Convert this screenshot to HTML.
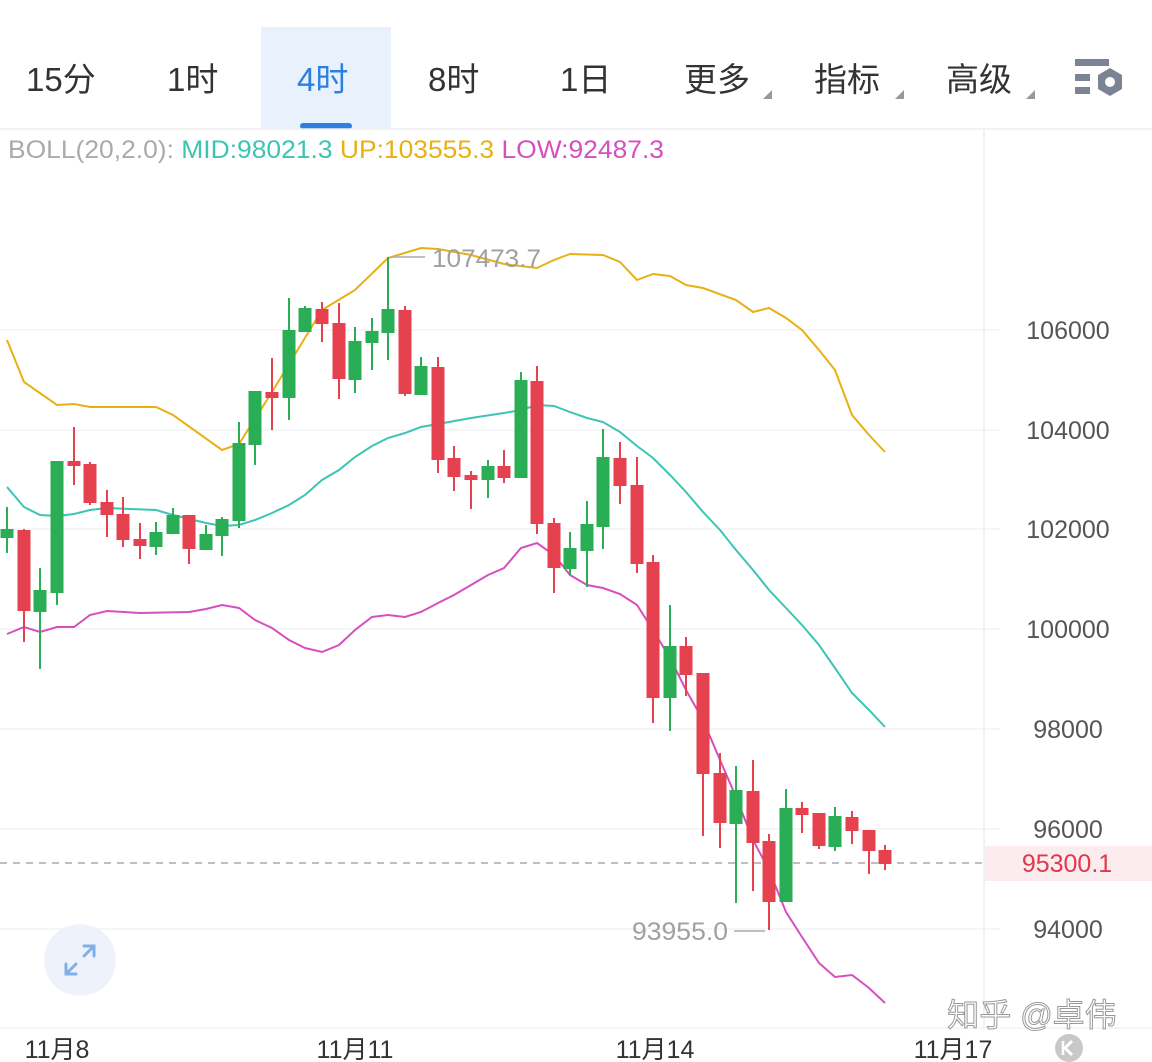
<!DOCTYPE html>
<html><head><meta charset="utf-8"><style>
body{margin:0;width:1152px;height:1062px;background:#fff;overflow:hidden;font-family:"Liberation Sans","Noto Sans CJK SC",sans-serif;}
</style></head><body>
<svg width="1152" height="1062" xmlns="http://www.w3.org/2000/svg" style="position:absolute;left:0;top:0">
<rect x="261" y="27" width="130" height="101" fill="#e8f1fc"/>
<rect x="300" y="123" width="52" height="6" rx="3" fill="#2f7fe0"/>
<line x1="0" y1="129" x2="1152" y2="129" stroke="#eee" stroke-width="1.5"/>
<g font-family="Liberation Sans,Noto Sans CJK SC,sans-serif" font-size="33" fill="#333">
<text x="26" y="91">15分</text>
<text x="167" y="91">1时</text>
<text x="297" y="91" fill="#2f7fe0">4时</text>
<text x="428" y="91">8时</text>
<text x="560" y="91">1日</text>
<text x="684" y="91">更多</text>
<text x="814" y="91">指标</text>
<text x="946" y="91">高级</text>
</g>
<g fill="#999"><polygon points="772,90 772,99 763,99"/><polygon points="904,90 904,99 895,99"/><polygon points="1035,90 1035,99 1026,99"/></g>
<g fill="#7a8494">
<rect x="1075" y="59" width="34" height="7"/><rect x="1075" y="74" width="15" height="7"/><rect x="1075" y="87" width="15" height="7"/>
<polygon points="1110,68 1122,75 1122,89 1110,96 1098,89 1098,75"/>
<circle cx="1110" cy="82" r="5" fill="#fff"/>
</g>
<text x="8" y="158" font-size="25" textLength="656" lengthAdjust="spacingAndGlyphs" font-family="Liberation Sans,Noto Sans CJK SC,sans-serif"><tspan fill="#aaa">BOLL(20,2.0): </tspan><tspan fill="#3cc4b4">MID:98021.3 </tspan><tspan fill="#e8b013">UP:103555.3 </tspan><tspan fill="#d64fbe">LOW:92487.3</tspan></text>
<line x1="984" y1="130" x2="984" y2="1028" stroke="#eee" stroke-width="1.5"/>
<g stroke="#f0f0f0" stroke-width="1.2">
<line x1="0" y1="330" x2="1000" y2="330"/><line x1="0" y1="430" x2="1000" y2="430"/><line x1="0" y1="529" x2="1000" y2="529"/><line x1="0" y1="629" x2="1000" y2="629"/><line x1="0" y1="729" x2="1000" y2="729"/><line x1="0" y1="829" x2="1000" y2="829"/><line x1="0" y1="929" x2="1000" y2="929"/><line x1="0" y1="1028" x2="1152" y2="1028"/>
</g>
<g font-size="25" fill="#555" text-anchor="middle">
<text x="1068" y="339">106000</text><text x="1068" y="439">104000</text><text x="1068" y="538">102000</text><text x="1068" y="638">100000</text><text x="1068" y="738">98000</text><text x="1068" y="838">96000</text><text x="1068" y="938">94000</text>
</g>
<line x1="0" y1="863" x2="985" y2="863" stroke="#aaa" stroke-width="1.5" stroke-dasharray="7,6"/>
<rect x="985" y="846" width="167" height="35" fill="#fdecee"/>
<text x="1067" y="872" font-size="25" fill="#e0384c" text-anchor="middle">95300.1</text>
<g font-size="25" fill="#333" text-anchor="middle" font-family="Liberation Sans,Noto Sans CJK SC,sans-serif">
<text x="57" y="1058">11月8</text><text x="355" y="1058">11月11</text><text x="655" y="1058">11月14</text><text x="953" y="1058">11月17</text>
</g>
<polyline fill="none" stroke="#e8b013" stroke-width="2" points="7,340 24,382 57,405 74,404 90,407 156,407 173,415 222,450 239,444 272,392 322,310 355,290 388,258 421,248 438,249 471,255 504,264 537,268 554,260 570,254 603,255 620,262 637,280 653,274 670,276 686,285 703,288 736,300 753,312 769,308 786,318 802,330 819,350 835,370 852,415 869,435 885,452"/>
<polyline fill="none" stroke="#3cc4b4" stroke-width="2" points="7,487 24,507 40,515 57,516 74,514 90,510 107,508 156,510 173,515 206,523 222,526 239,525 255,520 272,513 289,505 305,495 322,480 339,470 355,457 372,446 388,438 405,433 421,427 438,424 471,418 504,413 521,410 537,405 554,406 570,412 587,418 603,422 620,432 637,446 653,458 670,475 686,492 703,512 720,530 736,550 753,570 769,590 786,608 802,625 819,645 835,668 852,693 869,710 885,727"/>
<polyline fill="none" stroke="#d64fbe" stroke-width="2" points="7,634 24,627 40,632 57,627 74,627 90,615 107,611 140,613 189,612 206,609 222,605 239,608 255,620 272,628 289,640 305,648 322,652 339,645 355,630 372,617 388,615 405,617 421,612 438,603 454,595 471,585 488,575 504,568 521,548 537,543 554,555 570,575 587,585 603,588 620,594 637,605 653,630 670,658 686,690 703,720 720,760 736,797 753,840 769,870 786,912 802,937 819,963 835,977 852,975 869,988 885,1003"/>
<g stroke-width="2">
<g stroke="#2aae55" fill="#2aae55">
<line x1="7" y1="507" x2="7" y2="553"/><rect x="1.5" y="530" width="11" height="7"/>
<line x1="40" y1="568" x2="40" y2="669"/><rect x="34.5" y="591" width="11" height="20"/>
<line x1="57" y1="462" x2="57" y2="605"/><rect x="51.5" y="462" width="11" height="130"/>
<line x1="156" y1="522" x2="156" y2="555"/><rect x="150.5" y="533" width="11" height="13"/>
<line x1="173" y1="508" x2="173" y2="533"/><rect x="167.5" y="516" width="11" height="17"/>
<line x1="206" y1="525" x2="206" y2="549"/><rect x="200.5" y="535" width="11" height="14"/>
<line x1="222" y1="517" x2="222" y2="556"/><rect x="216.5" y="520" width="11" height="15"/>
<line x1="239" y1="422" x2="239" y2="528"/><rect x="233.5" y="444" width="11" height="76"/>
<line x1="255" y1="392" x2="255" y2="465"/><rect x="249.5" y="392" width="11" height="52"/>
<line x1="289" y1="298" x2="289" y2="420"/><rect x="283.5" y="331" width="11" height="66"/>
<line x1="305" y1="306" x2="305" y2="331"/><rect x="299.5" y="309" width="11" height="22"/>
<line x1="355" y1="327" x2="355" y2="393"/><rect x="349.5" y="342" width="11" height="37"/>
<line x1="372" y1="318" x2="372" y2="370"/><rect x="366.5" y="332" width="11" height="10"/>
<line x1="388" y1="257" x2="388" y2="360"/><rect x="382.5" y="310" width="11" height="22"/>
<line x1="421" y1="357" x2="421" y2="394"/><rect x="415.5" y="367" width="11" height="27"/>
<line x1="488" y1="460" x2="488" y2="498"/><rect x="482.5" y="467" width="11" height="12"/>
<line x1="521" y1="372" x2="521" y2="477"/><rect x="515.5" y="381" width="11" height="96"/>
<line x1="570" y1="532" x2="570" y2="575"/><rect x="564.5" y="549" width="11" height="19"/>
<line x1="587" y1="501" x2="587" y2="587"/><rect x="581.5" y="525" width="11" height="25"/>
<line x1="603" y1="429" x2="603" y2="549"/><rect x="597.5" y="458" width="11" height="68"/>
<line x1="670" y1="605" x2="670" y2="731"/><rect x="664.5" y="647" width="11" height="50"/>
<line x1="736" y1="766" x2="736" y2="903"/><rect x="730.5" y="791" width="11" height="32"/>
<line x1="786" y1="789" x2="786" y2="901"/><rect x="780.5" y="809" width="11" height="92"/>
<line x1="835" y1="807" x2="835" y2="851"/><rect x="829.5" y="817" width="11" height="29"/>
</g>
<g stroke="#e5414f" fill="#e5414f">
<line x1="24" y1="529" x2="24" y2="642"/><rect x="18.5" y="531" width="11" height="79"/>
<line x1="74" y1="427" x2="74" y2="485"/><rect x="68.5" y="462" width="11" height="3"/>
<line x1="90" y1="462" x2="90" y2="505"/><rect x="84.5" y="465" width="11" height="37"/>
<line x1="107" y1="490" x2="107" y2="537"/><rect x="101.5" y="503" width="11" height="11"/>
<line x1="123" y1="497" x2="123" y2="547"/><rect x="117.5" y="515" width="11" height="24"/>
<line x1="140" y1="523" x2="140" y2="559"/><rect x="134.5" y="540" width="11" height="5"/>
<line x1="189" y1="516" x2="189" y2="564"/><rect x="183.5" y="516" width="11" height="32"/>
<line x1="272" y1="358" x2="272" y2="430"/><rect x="266.5" y="393" width="11" height="4"/>
<line x1="322" y1="302" x2="322" y2="342"/><rect x="316.5" y="310" width="11" height="13"/>
<line x1="339" y1="303" x2="339" y2="399"/><rect x="333.5" y="324" width="11" height="54"/>
<line x1="405" y1="306" x2="405" y2="396"/><rect x="399.5" y="311" width="11" height="82"/>
<line x1="438" y1="357" x2="438" y2="473"/><rect x="432.5" y="368" width="11" height="91"/>
<line x1="454" y1="446" x2="454" y2="491"/><rect x="448.5" y="459" width="11" height="17"/>
<line x1="471" y1="471" x2="471" y2="509"/><rect x="465.5" y="476" width="11" height="3"/>
<line x1="504" y1="450" x2="504" y2="483"/><rect x="498.5" y="467" width="11" height="10"/>
<line x1="537" y1="366" x2="537" y2="534"/><rect x="531.5" y="382" width="11" height="141"/>
<line x1="554" y1="518" x2="554" y2="593"/><rect x="548.5" y="524" width="11" height="43"/>
<line x1="620" y1="442" x2="620" y2="504"/><rect x="614.5" y="459" width="11" height="26"/>
<line x1="637" y1="457" x2="637" y2="573"/><rect x="631.5" y="486" width="11" height="77"/>
<line x1="653" y1="555" x2="653" y2="723"/><rect x="647.5" y="563" width="11" height="134"/>
<line x1="686" y1="637" x2="686" y2="696"/><rect x="680.5" y="647" width="11" height="27"/>
<line x1="703" y1="673" x2="703" y2="836"/><rect x="697.5" y="674" width="11" height="99"/>
<line x1="720" y1="753" x2="720" y2="848"/><rect x="714.5" y="774" width="11" height="48"/>
<line x1="753" y1="760" x2="753" y2="891"/><rect x="747.5" y="792" width="11" height="50"/>
<line x1="769" y1="834" x2="769" y2="930"/><rect x="763.5" y="842" width="11" height="59"/>
<line x1="802" y1="802" x2="802" y2="833"/><rect x="796.5" y="809" width="11" height="5"/>
<line x1="819" y1="814" x2="819" y2="849"/><rect x="813.5" y="814" width="11" height="31"/>
<line x1="852" y1="811" x2="852" y2="844"/><rect x="846.5" y="818" width="11" height="12"/>
<line x1="869" y1="831" x2="869" y2="874"/><rect x="863.5" y="831" width="11" height="19"/>
<line x1="885" y1="845" x2="885" y2="870"/><rect x="879.5" y="851" width="11" height="12"/>
</g>
</g>
<line x1="392" y1="257" x2="425" y2="257" stroke="#aaa" stroke-width="1.5"/>
<text x="432" y="267" font-size="25" fill="#a0a0a0" textLength="109" lengthAdjust="spacingAndGlyphs">107473.7</text>
<line x1="734" y1="931" x2="765" y2="931" stroke="#aaa" stroke-width="1.5"/>
<text x="632" y="940" font-size="25" fill="#a0a0a0" textLength="96" lengthAdjust="spacingAndGlyphs">93955.0</text>
<circle cx="80" cy="960" r="36" fill="#eef3fb"/>
<g stroke="#7fb0ea" stroke-width="3" fill="none" stroke-linecap="round">
<line x1="68" y1="972" x2="76" y2="964"/><polyline points="66,964 66,974 76,974"/>
<line x1="92" y1="948" x2="84" y2="956"/><polyline points="84,946 94,946 94,956"/>
</g>
<text x="1032" y="1026" font-size="32" fill="#fff" stroke="#999" stroke-width="1" text-anchor="middle" font-family="Liberation Sans,Noto Sans CJK SC,sans-serif">知乎 @卓伟</text>
<circle cx="1069" cy="1048" r="14" fill="#c8c8c8"/>
<polyline points="1072,1041 1065,1048 1072,1055" fill="none" stroke="#fff" stroke-width="3"/>
<line x1="1063" y1="1041" x2="1063" y2="1055" stroke="#fff" stroke-width="2.5"/>
</svg>
</body></html>
